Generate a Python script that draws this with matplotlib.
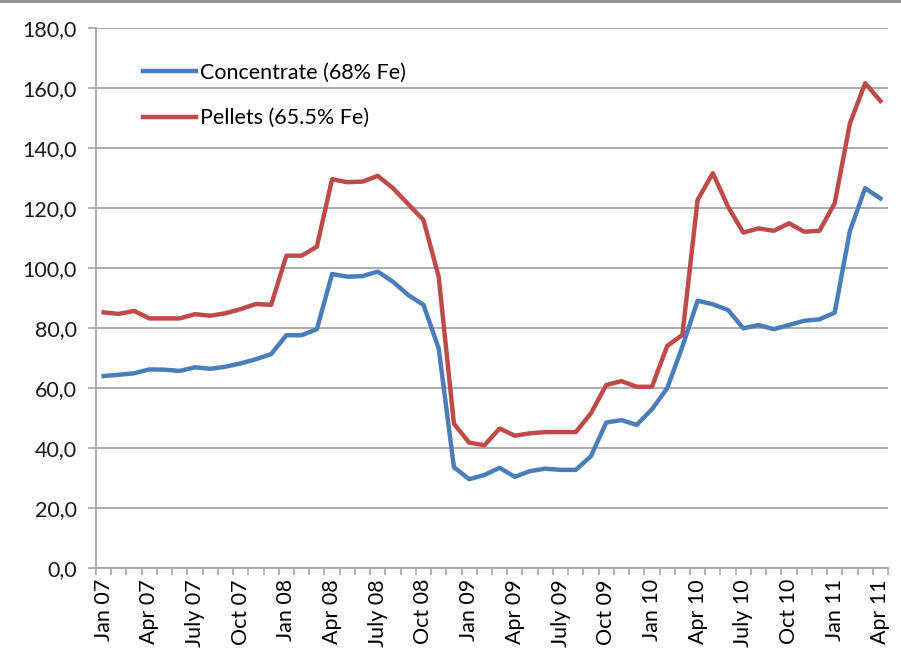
import matplotlib
matplotlib.use("Agg")
import matplotlib.pyplot as plt
from matplotlib.ticker import FuncFormatter, FixedLocator
from matplotlib.lines import Line2D

months = ["Jan", "Feb", "Mar", "Apr", "May", "June", "July", "Aug", "Sep", "Oct", "Nov", "Dec"]
years = ["07", "08", "09", "10", "11"]
categories = [f"{m} {y}" for y in years for m in months][:52]
tick_labels = [c for i, c in enumerate(categories) if i % 3 == 0]

concentrate = [64.0, 64.4, 64.9, 66.2, 66.1, 65.7, 66.9, 66.4, 67.1, 68.2, 69.6, 71.3,
               77.6, 77.6, 79.6, 98.0, 97.1, 97.3, 98.8, 95.4, 91.0, 87.7, 73.2, 33.6,
               29.6, 31.0, 33.4, 30.4, 32.3, 33.1, 32.7, 32.7, 37.3, 48.5, 49.3, 47.7,
               52.9, 59.9, 73.8, 89.1, 87.9, 86.0, 79.9, 81.0, 79.6, 81.0, 82.4, 82.9,
               85.1, 112.4, 126.6, 123.2]
pellets = [85.2, 84.7, 85.7, 83.2, 83.2, 83.2, 84.6, 84.1, 84.9, 86.3, 88.0, 87.7,
           104.1, 104.1, 107.1, 129.6, 128.6, 128.8, 130.7, 126.6, 121.3, 116.0, 97.1, 48.1,
           41.8, 40.9, 46.5, 44.1, 44.9, 45.3, 45.3, 45.3, 51.6, 61.0, 62.3, 60.4,
           60.4, 74.0, 77.7, 122.7, 131.6, 120.4, 111.8, 113.2, 112.4, 114.9, 112.1, 112.4,
           121.6, 148.2, 161.6, 155.7]
series_names = ["Concentrate (68% Fe)", "Pellets (65.5% Fe)"]

FONT = "Lato"
FS = 15.5
GRID = "#a6a6a6"

fig = plt.figure(figsize=(9.01, 6.58), dpi=100)
ax = fig.add_axes([96 / 901, 1 - 568 / 658, (888 - 96) / 901, (568 - 28) / 658])

x = list(range(len(categories)))
ax.plot(x, concentrate, color="#4a7ebb", lw=3.2, solid_joinstyle="round", label=series_names[0], zorder=3)
ax.plot(x, pellets, color="#be4b48", lw=3.2, solid_joinstyle="round", label=series_names[1], zorder=3)

ax.set_xlim(-0.5, len(categories) - 0.5)
ax.set_ylim(0, 180)
ax.set_yticks(range(0, 181, 20))
ax.yaxis.set_major_formatter(FuncFormatter(lambda v, p: f"{v:.1f}".replace(".", ",")))
ax.grid(axis="y", color=GRID, lw=1.3, zorder=0)
ax.set_axisbelow(True)

ax.set_xticks(list(range(0, len(categories), 3)))
ax.set_xticklabels(tick_labels, rotation=90, fontsize=FS, family=FONT, color="#000000")
ax.xaxis.set_minor_locator(FixedLocator([i - 0.5 for i in range(len(categories) + 1)]))
ax.tick_params(axis="x", which="major", length=0, pad=8)
ax.tick_params(axis="x", which="minor", length=5, color=GRID, width=1.2, direction="out")
ax.tick_params(axis="y", which="major", length=6, color=GRID, width=1.2, pad=8, labelsize=FS)
for lbl in ax.get_yticklabels():
    lbl.set_family(FONT)
    lbl.set_color("#1a1a1a")

for s in ["top", "right"]:
    ax.spines[s].set_visible(False)
for s in ["left", "bottom"]:
    ax.spines[s].set_color(GRID)
    ax.spines[s].set_linewidth(1.3)

leg = ax.legend(loc="upper left", bbox_to_anchor=(0.035, 0.972), frameon=False,
                prop={"family": FONT, "size": FS}, handlelength=2.45, handletextpad=0.2,
                labelspacing=1.2)

fig.add_artist(Line2D([0, 1], [0.998, 0.998], transform=fig.transFigure, color="#8c8c8c", lw=2))

fig.savefig("out.png", dpi=100, facecolor="white")
